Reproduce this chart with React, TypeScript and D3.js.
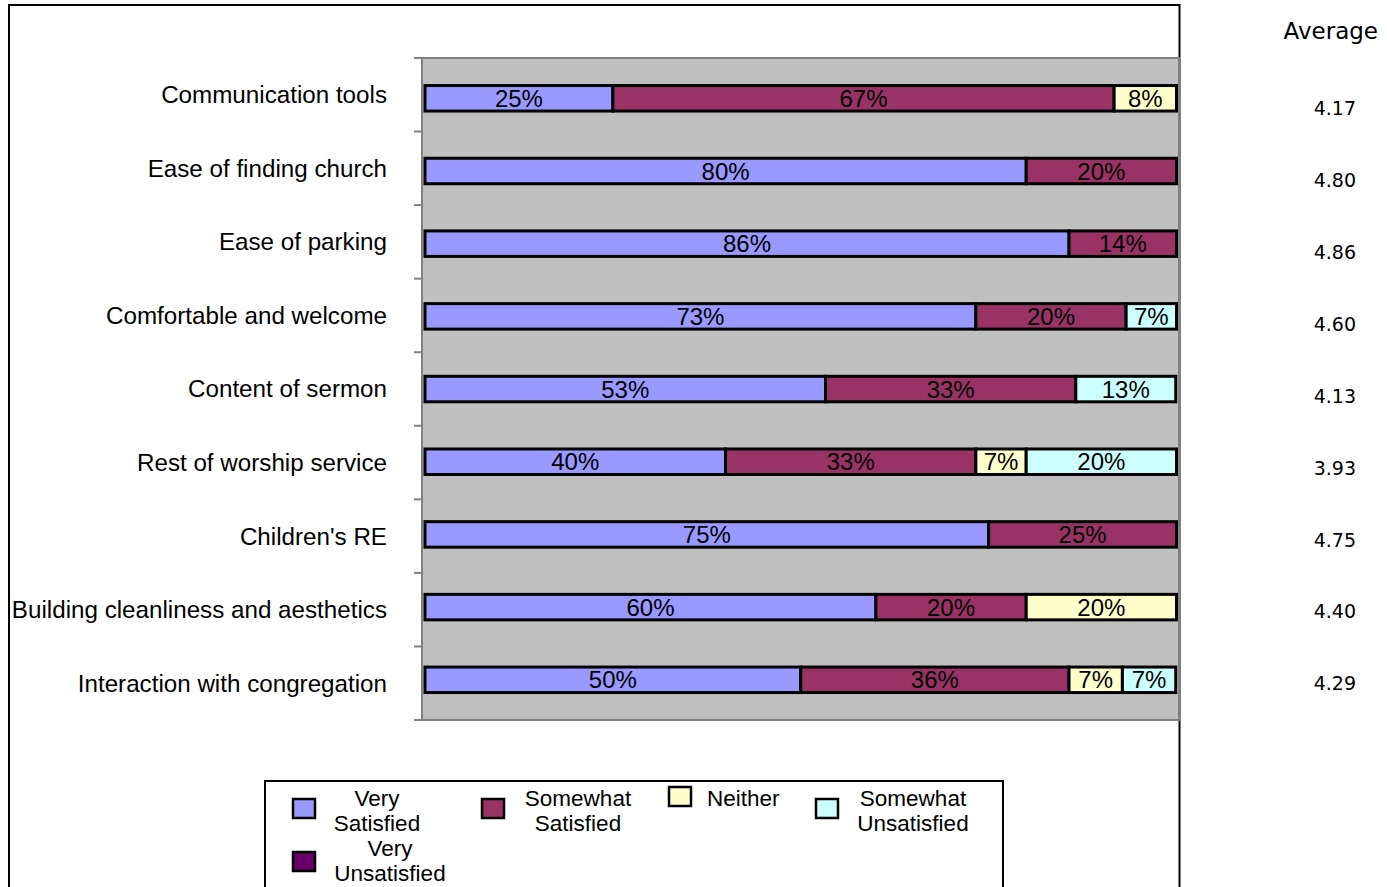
import React from "react";
import * as d3 from "d3";

const categories = [
  "Communication tools",
  "Ease of finding church",
  "Ease of parking",
  "Comfortable and welcome",
  "Content of sermon",
  "Rest of worship service",
  "Children's RE",
  "Building cleanliness and aesthetics",
  "Interaction with congregation",
];

const seriesNames = [
  "Very Satisfied",
  "Somewhat Satisfied",
  "Neither",
  "Somewhat Unsatisfied",
  "Very Unsatisfied",
];

const verySatisfied = [25, 80, 85.7, 73.3, 53.3, 40, 75, 60, 50];
const somewhatSatisfied = [66.7, 20, 14.3, 20, 33.3, 33.3, 25, 20, 35.7];
const neither = [8.3, 0, 0, 0, 0, 6.7, 0, 20, 7.1];
const somewhatUnsatisfied = [0, 0, 0, 6.7, 13.3, 20, 0, 0, 7.1];
const veryUnsatisfied = [0, 0, 0, 0, 0, 0, 0, 0, 0];

const averages = ["4.17", "4.80", "4.86", "4.60", "4.13", "3.93", "4.75", "4.40", "4.29"];

const colors = ["#9999FF", "#993366", "#FFFFCC", "#CCFFFF", "#660066"];

const legendLines = [
  ["Very", "Satisfied"],
  ["Somewhat", "Satisfied"],
  ["Neither"],
  ["Somewhat", "Unsatisfied"],
  ["Very", "Unsatisfied"],
];

const FONT = "'Liberation Sans', Arial, sans-serif";
const TAHOMA = "'DejaVu Sans', Verdana, sans-serif";

export default function App() {
  const series = [verySatisfied, somewhatSatisfied, neither, somewhatUnsatisfied, veryUnsatisfied];

  const plotL = 422, plotR = 1179, plotT = 58, plotB = 720;
  const x = d3.scaleLinear().domain([0, 100]).range([425, 1176.5]);
  const band = d3.scaleBand<string>().domain(categories).range([plotT, plotB]);
  const barY = d3.scalePoint<string>().domain(categories).range([98.3, 679.8]);
  const avgY = d3.scalePoint<string>().domain(categories).range([108.5, 683.5]);
  const barH = 25.5;

  const tickYs = [...categories.map((c) => band(c)!), plotB];

  const legendPos = [
    { sx: 293, sy: 799, tx: 377, ty: 806, anchor: "middle" },
    { sx: 482, sy: 799, tx: 578, ty: 806, anchor: "middle" },
    { sx: 669, sy: 787, tx: 707, ty: 806, anchor: "start" },
    { sx: 816, sy: 799, tx: 913, ty: 806, anchor: "middle" },
    { sx: 293, sy: 852, tx: 390, ty: 856, anchor: "middle" },
  ];

  return (
    <svg
      width={1387}
      height={887}
      style={{ position: "absolute", left: 0, top: 0, background: "#fff" }}
      fontFamily={FONT}
    >
      {/* outer chart border */}
      <rect x={9} y={5} width={1170.5} height={900} fill="#fff" stroke="#000" strokeWidth={2} />

      {/* plot area */}
      <rect x={plotL} y={plotT} width={plotR - plotL} height={plotB - plotT} fill="#C0C0C0" stroke="#808080" strokeWidth={2} />
      {tickYs.map((ty, i) => (
        <line key={i} x1={414} x2={plotL} y1={ty} y2={ty} stroke="#808080" strokeWidth={2} />
      ))}

      {/* category labels */}
      {categories.map((c) => (
        <text key={c} x={387} y={band(c)! + band.bandwidth() / 2} dy="0.35em" textAnchor="end" fontSize={24.2} fill="#000">
          {c}
        </text>
      ))}

      {/* bars */}
      {categories.map((c, ci) => {
        let acc = 0;
        return (
          <g key={c}>
            {series.map((s, si) => {
              const v = s[ci];
              const x0 = acc;
              acc += v;
              if (v <= 0) return null;
              const xa = x(x0), xb = x(x0 + v);
              return (
                <g key={si}>
                  <rect x={xa} y={barY(c)! - barH / 2} width={xb - xa} height={barH} fill={colors[si]} stroke="#000" strokeWidth={3} />
                  <text x={(xa + xb) / 2} y={barY(c)!} dy="0.36em" textAnchor="middle" fontSize={24} fill="#000">
                    {Math.round(v)}%
                  </text>
                </g>
              );
            })}
          </g>
        );
      })}

      {/* averages */}
      <text x={1378} y={31} dy="0.36em" textAnchor="end" fontSize={23} fontFamily={TAHOMA} fill="#000">
        Average
      </text>
      {categories.map((c, i) => (
        <text key={c} x={1356} y={avgY(c)!} dy="0.36em" textAnchor="end" fontSize={19} fontFamily={TAHOMA} fill="#000">
          {averages[i]}
        </text>
      ))}

      {/* legend */}
      <rect x={265} y={781} width={738} height={130} fill="#fff" stroke="#000" strokeWidth={2} />
      {seriesNames.map((n, i) => {
        const p = legendPos[i];
        return (
          <g key={n}>
            <rect x={p.sx} y={p.sy} width={22} height={19} fill={colors[i]} stroke="#000" strokeWidth={2.5} />
            <text textAnchor={p.anchor} fontSize={22.5} fill="#000">
              {legendLines[i].map((ln, li) => (
                <tspan key={li} x={p.tx} y={p.ty + li * 25}>
                  {ln}
                </tspan>
              ))}
            </text>
          </g>
        );
      })}
    </svg>
  );
}
